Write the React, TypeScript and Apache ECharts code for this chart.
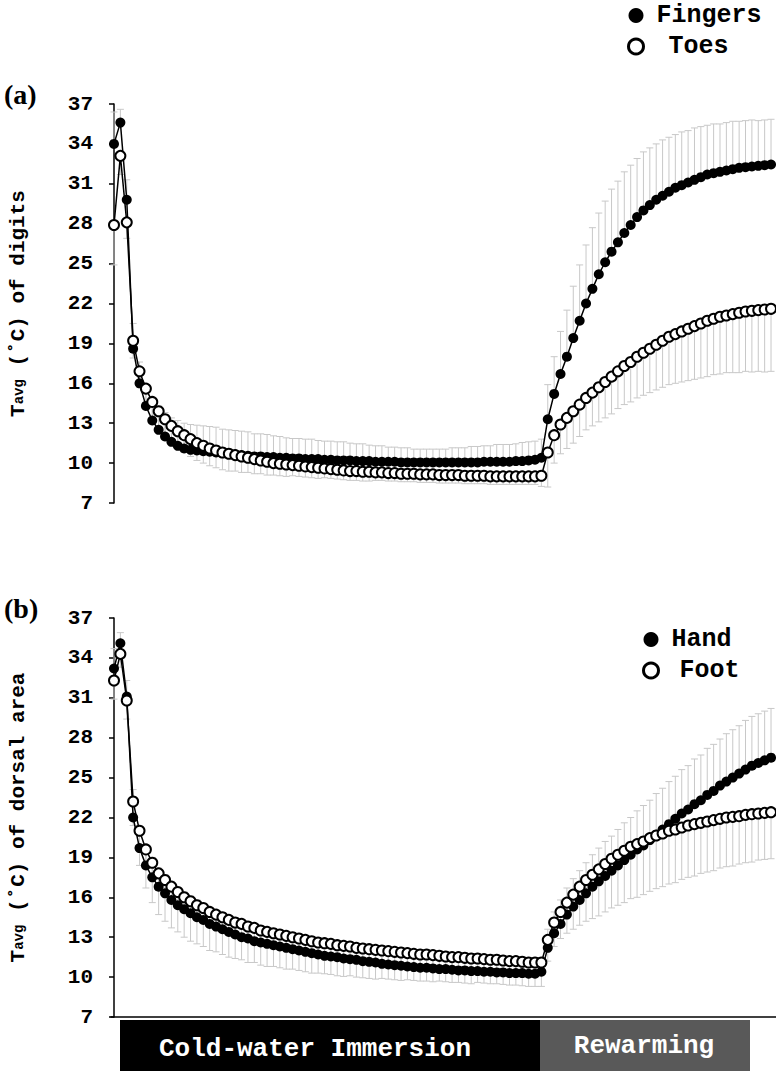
import React, { useEffect, useRef } from "react";
import * as echarts from "echarts";

// ---- Panel (a): digits ----
const fingers = [
  34.0, 35.6, 29.8, 18.6, 16.0, 14.3, 13.2, 12.5, 12.0, 11.6,
  11.3, 11.1, 11.0, 10.95, 10.9, 10.85, 10.8, 10.75, 10.7, 10.65,
  10.6, 10.55, 10.5, 10.5, 10.45, 10.45, 10.4, 10.4, 10.35, 10.35,
  10.3, 10.3, 10.3, 10.25, 10.25, 10.2, 10.2, 10.2, 10.15, 10.15,
  10.15, 10.1, 10.1, 10.1, 10.1, 10.05, 10.05, 10.05, 10.05, 10.05,
  10.05, 10.05, 10.05, 10.05, 10.05, 10.05, 10.05, 10.05, 10.1, 10.1,
  10.1, 10.1, 10.1, 10.15, 10.15, 10.2, 10.25, 10.4,
  13.3, 15.2, 16.7, 18.0, 19.4, 20.7, 22.0, 23.1, 24.2, 25.1,
  25.9, 26.6, 27.3, 27.9, 28.5, 29.0, 29.4, 29.8, 30.1, 30.4,
  30.7, 30.9, 31.1, 31.3, 31.5, 31.7, 31.8, 31.9, 32.0, 32.1,
  32.2, 32.25, 32.3, 32.35, 32.4, 32.45,
];
const fingersSD = [
  2.4, 1.0, 1.5, 1.9, 1.6, 1.6, 1.7, 1.8, 1.8, 1.8,
  1.9, 1.9, 1.9, 1.9, 1.9, 1.9, 1.9, 1.8, 1.8, 1.8,
  1.8, 1.8, 1.7, 1.7, 1.7, 1.6, 1.6, 1.5, 1.5, 1.5,
  1.5, 1.5, 1.4, 1.4, 1.4, 1.4, 1.4, 1.3, 1.3, 1.3,
  1.2, 1.2, 1.2, 1.1, 1.1, 1.1, 1.1, 1.0, 1.0, 1.0,
  1.0, 1.0, 1.0, 1.1, 1.1, 1.1, 1.2, 1.2, 1.2, 1.2,
  1.3, 1.3, 1.3, 1.3, 1.4, 1.4, 1.4, 1.4,
  2.6, 2.8, 3.2, 3.5, 3.9, 4.2, 4.4, 4.6, 4.6, 4.6,
  4.7, 4.6, 4.6, 4.5, 4.4, 4.4, 4.3, 4.2, 4.2, 4.1,
  4.0, 4.0, 3.9, 3.9, 3.8, 3.7, 3.7, 3.6, 3.6, 3.6,
  3.5, 3.5, 3.5, 3.4, 3.4, 3.4,
];
const toes = [
  27.9, 33.1, 28.1, 19.2, 16.9, 15.6, 14.6, 13.9, 13.3, 12.8,
  12.4, 12.1, 11.8, 11.5, 11.3, 11.1, 10.95, 10.8, 10.7, 10.6,
  10.5, 10.4, 10.3, 10.2, 10.1, 10.0, 9.95, 9.9, 9.85, 9.8,
  9.75, 9.7, 9.65, 9.6, 9.55, 9.5, 9.45, 9.4, 9.4, 9.35,
  9.35, 9.3, 9.3, 9.25, 9.25, 9.2, 9.2, 9.2, 9.15, 9.15,
  9.15, 9.1, 9.1, 9.1, 9.1, 9.05, 9.05, 9.05, 9.05, 9.0,
  9.0, 9.0, 9.0, 9.0, 9.0, 9.0, 9.0, 9.05,
  10.8, 12.1, 12.9, 13.4, 13.9, 14.4, 14.9, 15.3, 15.7, 16.1,
  16.5, 16.9, 17.3, 17.6, 18.0, 18.3, 18.6, 18.9, 19.2, 19.5,
  19.7, 19.9, 20.1, 20.3, 20.5, 20.7, 20.85, 21.0, 21.1, 21.2,
  21.3, 21.4, 21.45, 21.5, 21.55, 21.6,
];
const toesSD = [
  3.0, 1.4, 1.2, 1.3, 1.2, 1.2, 1.3, 1.3, 1.3, 1.3,
  1.3, 1.3, 1.3, 1.3, 1.3, 1.3, 1.3, 1.3, 1.3, 1.2,
  1.2, 1.1, 1.1, 1.0, 1.0, 0.9, 0.9, 0.9, 0.8, 0.8,
  0.8, 0.8, 0.8, 0.7, 0.7, 0.7, 0.7, 0.7, 0.7, 0.7,
  0.7, 0.6, 0.6, 0.6, 0.6, 0.6, 0.6, 0.6, 0.6, 0.6,
  0.6, 0.6, 0.6, 0.6, 0.6, 0.6, 0.6, 0.6, 0.6, 0.6,
  0.6, 0.6, 0.6, 0.6, 0.6, 0.6, 0.6, 0.8,
  2.6, 2.1, 2.2, 2.3, 2.4, 2.4, 2.4, 2.5, 2.6, 2.7,
  2.8, 2.8, 2.9, 3.0, 3.1, 3.2, 3.3, 3.4, 3.5, 3.6,
  3.7, 3.8, 3.9, 4.0, 4.1, 4.2, 4.2, 4.3, 4.3, 4.4,
  4.5, 4.5, 4.6, 4.6, 4.7, 4.7,
];

// ---- Panel (b): dorsal area ----
const hand = [
  33.2, 35.1, 31.1, 22.0, 19.7, 18.4, 17.5, 16.8, 16.3, 15.8,
  15.4, 15.1, 14.8, 14.5, 14.3, 14.0, 13.8, 13.6, 13.4, 13.2,
  13.0, 12.9, 12.7, 12.6, 12.5, 12.4, 12.3, 12.2, 12.1, 12.0,
  11.9, 11.8, 11.7, 11.6, 11.55, 11.5, 11.4, 11.35, 11.3, 11.2,
  11.15, 11.1, 11.0, 10.95, 10.9, 10.85, 10.8, 10.75, 10.7, 10.7,
  10.65, 10.6, 10.6, 10.55, 10.5, 10.5, 10.45, 10.45, 10.4, 10.4,
  10.35, 10.35, 10.3, 10.3, 10.3, 10.25, 10.25, 10.4,
  12.2, 13.3, 14.0, 14.7, 15.3, 15.8, 16.3, 16.8, 17.2, 17.6,
  18.0, 18.4, 18.8, 19.2, 19.6, 19.9, 20.3, 20.7, 21.1, 21.5,
  21.9, 22.3, 22.6, 23.0, 23.3, 23.7, 24.0, 24.4, 24.7, 25.0,
  25.3, 25.6, 25.9, 26.1, 26.3, 26.5,
];
const handSD = [
  1.5, 0.8, 1.2, 2.1, 1.5, 1.5, 1.5, 1.4, 1.4, 1.4,
  1.3, 1.3, 1.3, 1.3, 1.2, 1.2, 1.2, 1.2, 1.2, 1.1,
  1.1, 1.1, 1.1, 1.0, 1.0, 1.0, 1.0, 1.0, 1.0, 1.0,
  1.0, 1.0, 1.0, 1.0, 1.0, 1.0, 1.0, 1.0, 1.0, 1.0,
  0.9, 0.9, 0.9, 0.9, 0.9, 0.9, 0.9, 0.9, 0.9, 0.9,
  0.9, 0.9, 0.9, 0.9, 0.9, 0.9, 0.9, 0.9, 0.9, 0.9,
  0.9, 0.9, 0.9, 0.9, 0.9, 0.9, 0.9, 0.9,
  1.4, 1.6, 1.8, 2.0, 2.1, 2.2, 2.3, 2.4, 2.5, 2.6,
  2.6, 2.7, 2.8, 2.8, 2.9, 3.0, 3.0, 3.1, 3.1, 3.2,
  3.2, 3.3, 3.3, 3.4, 3.4, 3.5, 3.5, 3.5, 3.6, 3.6,
  3.6, 3.7, 3.7, 3.7, 3.7, 3.7,
];
const foot = [
  32.3, 34.3, 30.8, 23.2, 21.0, 19.6, 18.6, 17.8, 17.3, 16.8,
  16.4, 16.0, 15.7, 15.4, 15.2, 14.9, 14.7, 14.5, 14.3, 14.1,
  14.0, 13.8, 13.7, 13.5, 13.4, 13.3, 13.2, 13.1, 13.0, 12.9,
  12.8, 12.7, 12.6, 12.55, 12.5, 12.4, 12.35, 12.3, 12.2, 12.15,
  12.1, 12.05, 12.0, 11.95, 11.9, 11.85, 11.8, 11.75, 11.7, 11.7,
  11.65, 11.6, 11.55, 11.5, 11.5, 11.45, 11.4, 11.4, 11.35, 11.3,
  11.3, 11.25, 11.2, 11.2, 11.15, 11.1, 11.1, 11.1,
  12.8, 14.1, 14.9, 15.6, 16.2, 16.8, 17.3, 17.7, 18.1, 18.5,
  18.9, 19.2, 19.5, 19.8, 20.0, 20.2, 20.45, 20.65, 20.8, 21.0,
  21.1, 21.25, 21.4, 21.5, 21.6, 21.7, 21.8, 21.9, 22.0, 22.05,
  22.1, 22.2, 22.25, 22.3, 22.35, 22.4,
];
const footSD = [
  1.4, 1.0, 1.4, 1.8, 2.6, 2.9, 3.0, 3.1, 3.1, 3.1,
  3.0, 3.0, 3.0, 2.9, 2.9, 2.9, 2.8, 2.8, 2.8, 2.7,
  2.7, 2.7, 2.6, 2.6, 2.6, 2.5, 2.5, 2.5, 2.4, 2.4,
  2.4, 2.4, 2.3, 2.3, 2.3, 2.3, 2.3, 2.2, 2.2, 2.2,
  2.2, 2.2, 2.1, 2.1, 2.1, 2.1, 2.0, 2.0, 2.0, 2.0,
  2.0, 1.9, 1.9, 1.9, 1.9, 1.9, 1.9, 1.8, 1.8, 1.8,
  1.8, 1.8, 1.8, 1.8, 1.8, 1.8, 1.8, 1.8,
  1.6, 1.8, 2.0, 2.3, 2.6, 2.9, 3.1, 3.3, 3.5, 3.6,
  3.7, 3.8, 3.9, 3.9, 4.0, 4.0, 4.0, 4.0, 4.0, 4.0,
  4.0, 3.9, 3.9, 3.9, 3.8, 3.8, 3.8, 3.7, 3.7, 3.7,
  3.6, 3.6, 3.6, 3.5, 3.5, 3.5,
];

const yTicks = { min: 7, max: 37, interval: 3 };
const phaseLabels = ["Cold-water Immersion", "Rewarming"];
const panelLabels = ["(a)", "(b)"];
const yTitlesA = ["T", "avg", " (˚C) of digits"];
const yTitlesB = ["T", "avg", " (˚C) of dorsal area"];

const MONO = "'Liberation Mono', 'Courier New', monospace";
const SERIF = "'Liberation Serif', 'Times New Roman', serif";

function errorSeries(gi: number, values: number[], sds: number[], dir: number) {
  return {
    type: "custom",
    xAxisIndex: gi,
    yAxisIndex: gi,
    silent: true,
    z: 1,
    data: values.map((v, i) => [i, v, v + dir * sds[i]]),
    encode: { x: 0, y: [1, 2] },
    renderItem: (_p: any, api: any) => {
      const x = api.value(0);
      const a = api.coord([x, api.value(1)]);
      const b = api.coord([x, api.value(2)]);
      const hw = 3.5;
      const st = { stroke: "#c8c8c8", lineWidth: 1 };
      return {
        type: "group",
        children: [
          { type: "line", shape: { x1: a[0], y1: a[1], x2: b[0], y2: b[1] }, style: st },
          { type: "line", shape: { x1: b[0] - hw, y1: b[1], x2: b[0] + hw, y2: b[1] }, style: st },
        ],
      };
    },
  };
}

function lineSeries(name: string, gi: number, values: number[], open: boolean) {
  return {
    type: "line",
    name,
    xAxisIndex: gi,
    yAxisIndex: gi,
    z: open ? 4 : 3,
    data: values.map((v, i) => [i, v]),
    symbol: "circle",
    symbolSize: 10,
    lineStyle: { color: "#000", width: 1.5 },
    itemStyle: open
      ? { color: "#fff", borderColor: "#000", borderWidth: 2 }
      : { color: "#000", borderColor: "#000", borderWidth: 0 },
  };
}

function yAxis(gi: number, title: string[]) {
  return {
    type: "value",
    gridIndex: gi,
    min: yTicks.min,
    max: yTicks.max,
    interval: yTicks.interval,
    axisLine: { show: true, lineStyle: { color: "#000", width: 1.5 } },
    axisTick: { show: true, length: 5, lineStyle: { color: "#000", width: 1.5 } },
    axisLabel: { color: "#000", fontFamily: MONO, fontWeight: "bold", fontSize: 21, margin: 18 },
    splitLine: { show: false },
    name: `{t|${title[0]}}{s|${title[1]}}{t|${title[2]}}`,
    nameLocation: "middle",
    nameGap: 82,
    nameTextStyle: {
      rich: {
        t: { fontFamily: MONO, fontWeight: "bold", fontSize: 21, color: "#000" },
        s: { fontFamily: MONO, fontWeight: "bold", fontSize: 14, color: "#000" },
      },
    },
  };
}

function xAxis(gi: number, showLine: boolean) {
  return {
    type: "value",
    gridIndex: gi,
    min: -0.47,
    max: 103.78,
    axisLine: { show: showLine, onZero: false, lineStyle: { color: "#000", width: 1.5 } },
    axisTick: { show: false },
    axisLabel: { show: false },
    splitLine: { show: false },
  };
}

const legendText = { fontFamily: MONO, fontWeight: "bold", fontSize: 25, color: "#000" };

function legend(left: number, top: number, names: string[], offset: number) {
  return {
    orient: "vertical",
    left,
    top,
    itemWidth: 15,
    itemHeight: 15,
    itemGap: 6,
    textStyle: {
      ...legendText,
      rich: {
        f: { ...legendText, padding: [0, 0, 0, 8] },
        o: { ...legendText, padding: [0, 0, 0, 8 + offset] },
      },
    },
    formatter: (n: string) => (n === names[1] ? `{o|${n}}` : `{f|${n}}`),
    data: [
      { name: names[0], icon: "circle", itemStyle: { color: "#000" } },
      { name: names[1], icon: "circle", itemStyle: { color: "#fff", borderColor: "#000", borderWidth: 3 } },
    ],
  };
}

export default function App() {
  const ref = useRef<HTMLDivElement>(null);
  useEffect(() => {
    if (!ref.current) return;
    const chart = echarts.init(ref.current, null, { renderer: "svg" });
    chart.setOption({
      animation: false,
      backgroundColor: "#fff",
      grid: [
        { left: 110, top: 104, width: 666, height: 399 },
        { left: 110, top: 618, width: 666, height: 399 },
      ],
      xAxis: [xAxis(0, false), xAxis(1, true)],
      yAxis: [yAxis(0, yTitlesA), yAxis(1, yTitlesB)],
      legend: [
        legend(622, -2, ["Fingers", "Toes"], 12),
        legend(637, 622, ["Hand", "Foot"], 8),
      ],
      series: [
        errorSeries(0, fingers, fingersSD, 1),
        errorSeries(0, toes, toesSD, -1),
        lineSeries("Fingers", 0, fingers, false),
        lineSeries("Toes", 0, toes, true),
        errorSeries(1, hand, handSD, 1),
        errorSeries(1, foot, footSD, -1),
        lineSeries("Hand", 1, hand, false),
        lineSeries("Foot", 1, foot, true),
      ],
      graphic: [
        { type: "text", left: 4, top: 80, style: { text: panelLabels[0], font: `bold 28px ${SERIF}`, fill: "#000" } },
        { type: "text", left: 4, top: 594, style: { text: panelLabels[1], font: `bold 28px ${SERIF}`, fill: "#000" } },
        { type: "rect", shape: { x: 120, y: 1020, width: 420, height: 51 }, style: { fill: "#000" } },
        { type: "rect", shape: { x: 540, y: 1020, width: 210, height: 51 }, style: { fill: "#595959" } },
        {
          type: "text",
          x: 315,
          y: 1049,
          style: { text: phaseLabels[0], font: `bold 26px ${MONO}`, fill: "#fff", align: "center", verticalAlign: "middle" },
        },
        {
          type: "text",
          x: 644,
          y: 1046,
          style: { text: phaseLabels[1], font: `bold 26px ${MONO}`, fill: "#fff", align: "center", verticalAlign: "middle" },
        },
      ],
    });
    return () => chart.dispose();
  }, []);
  return (
    <div
      ref={ref}
      style={{ position: "absolute", left: 0, top: 0, width: 776, height: 1071 }}
    />
  );
}
